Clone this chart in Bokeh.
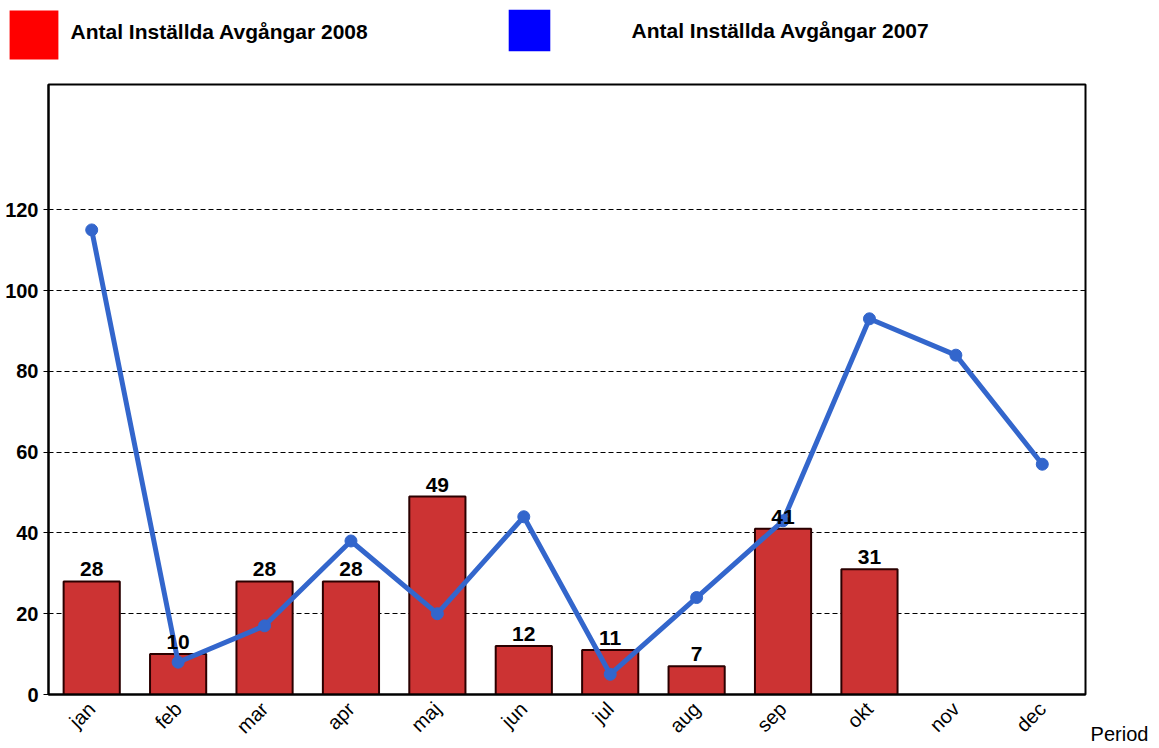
from bokeh.plotting import figure
from bokeh.layouts import column, row
from bokeh.models import (ColumnDataSource, FixedTicker, Legend, LegendItem, Label, LabelSet)
from bokeh.core.properties import value
from bokeh.embed import file_html
from bokeh.resources import INLINE

months = ["jan", "feb", "mar", "apr", "maj", "jun", "jul", "aug", "sep", "okt", "nov", "dec"]
bars_2008 = [28, 10, 28, 28, 49, 12, 11, 7, 41, 31]
line_2007 = [115, 8, 17, 38, 20, 44, 5, 24, 43, 93, 84, 57]
y_ticks = [0, 20, 40, 60, 80, 100, 120]
label_2008 = "Antal Inställda Avgångar 2008"
label_2007 = "Antal Inställda Avgångar 2007"
x_title = "Period"

FONT = "Liberation Sans"
TOTAL_W = 1151
LEG_H = 70
SIDE_W = 64
BL, BR, BT, BB = 48, 2, 14, 54
W, H = TOTAL_W - SIDE_W, BT + 610 + BB

# ---------- legend strip ----------
lf = figure(width=TOTAL_W, height=LEG_H, x_range=(0, 1), y_range=(0, 1),
            output_backend="svg", toolbar_location=None,
            x_axis_location=None, y_axis_location=None,
            min_border_left=0, min_border_right=0, min_border_top=0, min_border_bottom=0)
lf.outline_line_color = None
lf.grid.grid_line_color = None
# swatch-only renderers (their single point lies outside the strip's visible range)
r_red = lf.vbar(x=[5], top=[5], width=0.5, fill_color="#FF0000", line_color=None)
r_blue = lf.vbar(x=[5], top=[5], width=0.5, fill_color="#0000FF", line_color=None)

sw_common = dict(padding=0, margin=0, border_line_color=None, background_fill_alpha=0,
                 label_standoff=0, label_text_font_size="1px")
# swatch glyph is drawn at 80% of its box, so the box is enlarged accordingly
sw1 = Legend(items=[LegendItem(label="", renderers=[r_red])],
             location=(3, LEG_H - 65), glyph_width=61, glyph_height=61, **sw_common)
sw2 = Legend(items=[LegendItem(label="", renderers=[r_blue])],
             location=(503, LEG_H - 56), glyph_width=52, glyph_height=52, **sw_common)
lf.add_layout(sw1)
lf.add_layout(sw2)

txt_common = dict(x_units="screen", y_units="screen", text_font=FONT, text_font_size="21px",
                  text_font_style="bold", text_color="black", text_baseline="alphabetic",
                  text_align="left")
lf.add_layout(Label(x=70, y=LEG_H - 31, text=label_2008, **txt_common))
lf.add_layout(Label(x=631, y=LEG_H - 30, text=label_2007, **txt_common))

# ---------- main chart ----------
p = figure(x_range=months, y_range=(0, 151), width=W, height=H,
           output_backend="svg", toolbar_location=None,
           min_border_left=BL, min_border_right=BR, min_border_top=BT, min_border_bottom=BB)

bar_src = ColumnDataSource(dict(x=months[:len(bars_2008)], y=bars_2008,
                                lbl=[str(v) for v in bars_2008]))
p.vbar(x="x", top="y", width=0.65, source=bar_src, fill_color="#CC3333",
       line_color="#2a0000", line_width=2)

labels = LabelSet(x="x", y="y", text="lbl", source=bar_src, text_align="center",
                  text_baseline="bottom", y_offset=5, text_font=value(FONT),
                  text_font_size="21px", text_font_style="bold", text_color="black")
p.add_layout(labels)

line_src = ColumnDataSource(dict(x=months, y=line_2007))
p.line(x="x", y="y", source=line_src, line_color="#3366CC", line_width=5)
p.scatter(x="x", y="y", source=line_src, size=12, fill_color="#3366CC", line_color="#3366CC")

p.yaxis.ticker = FixedTicker(ticks=y_ticks)
p.yaxis.major_label_text_font = FONT
p.yaxis.major_label_text_font_size = "20px"
p.yaxis.major_label_text_font_style = "bold"
p.yaxis.major_label_text_color = "black"
p.yaxis.major_tick_in = 0
p.yaxis.major_tick_out = 5
p.yaxis.minor_tick_line_color = None
p.yaxis.axis_line_color = "black"
p.yaxis.axis_line_width = 2
p.yaxis.major_tick_line_color = "black"

p.xaxis.major_label_orientation = 0.785
p.xaxis.major_label_text_font = FONT
p.xaxis.major_label_text_font_size = "20px"
p.xaxis.major_label_text_color = "black"
p.xaxis.major_tick_line_color = None
p.xaxis.axis_line_color = "black"
p.xaxis.axis_line_width = 2
p.xaxis.major_label_standoff = 5

p.xgrid.grid_line_color = None
p.ygrid.grid_line_color = "black"
p.ygrid.grid_line_dash = "5 3"
p.ygrid.grid_line_width = 1

p.outline_line_color = "black"
p.outline_line_width = 2
p.outline_line_alpha = 1

# ---------- side strip carrying the x title as an axis label ----------
sf = figure(width=SIDE_W, height=H, x_range=(0, 1), y_range=(0, 1),
            output_backend="svg", toolbar_location=None, y_axis_location=None,
            min_border_left=0, min_border_right=0, min_border_top=BT, min_border_bottom=BB)
sf.outline_line_color = None
sf.grid.grid_line_color = None
sf.xaxis.ticker = FixedTicker(ticks=[])
sf.xaxis.axis_line_color = None
sf.xaxis.major_tick_out = 0
sf.xaxis.major_tick_in = 0
sf.xaxis.axis_label = x_title
sf.xaxis.axis_label_standoff = 28
sf.xaxis.axis_label_text_font = FONT
sf.xaxis.axis_label_text_font_size = "20px"
sf.xaxis.axis_label_text_font_style = "normal"
sf.xaxis.axis_label_text_color = "black"

layout = column(lf, row(p, sf, spacing=0), spacing=0)
open("out.html", "w").write(file_html(layout, INLINE))
